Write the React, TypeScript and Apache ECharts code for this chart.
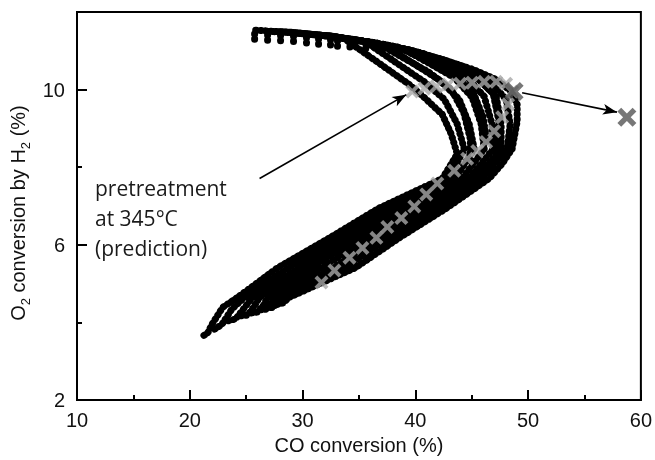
import React, { useEffect, useRef } from 'react';
import * as echarts from 'echarts';

// Black simulated trajectories (CO conversion %, O2 conversion by H2 %)
const curve0 = [[25.75,11.30],[25.75,11.53],[28.85,11.48],[32.39,11.38],[35.93,11.22],[39.47,11.02],[42.57,10.76],[45.22,10.51],[47.26,10.25],[48.50,9.95],[49.03,9.62],[49.03,9.18],[48.58,8.47],[47.70,8.09],[46.55,7.71],[42.74,6.94],[38.58,6.18],[34.69,5.41],[28.85,4.65],[28.23,4.50],[27.52,4.45]];
const curve1 = [[26.90,11.27],[26.90,11.50],[28.85,11.48],[32.39,11.38],[35.93,11.22],[39.47,11.02],[42.57,10.76],[44.34,10.59],[46.73,10.18],[48.05,9.75],[48.41,9.11],[48.14,8.47],[45.93,7.71],[41.86,6.94],[37.70,6.18],[33.72,5.41],[28.23,4.65],[27.96,4.57],[27.43,4.39],[26.73,4.37]];
const curve2 = [[28.05,11.26],[28.05,11.49],[32.39,11.38],[35.93,11.22],[39.47,11.02],[42.57,10.76],[45.66,10.25],[47.17,9.82],[47.61,9.11],[47.61,8.47],[45.40,7.71],[40.97,6.94],[36.81,6.18],[32.74,5.41],[27.52,4.65],[27.26,4.50],[26.73,4.34],[26.02,4.32]];
const curve3 = [[29.20,11.24],[29.20,11.46],[32.39,11.38],[35.93,11.22],[39.47,11.02],[40.80,10.92],[44.60,10.31],[46.11,9.82],[46.81,9.11],[46.90,8.47],[44.78,7.71],[40.18,6.94],[35.93,6.18],[31.68,5.41],[26.90,4.65],[26.55,4.45],[26.02,4.27],[25.31,4.24]];
const curve4 = [[30.35,11.20],[30.35,11.43],[32.39,11.38],[35.93,11.22],[39.03,11.04],[43.45,10.31],[45.04,9.80],[45.84,9.11],[46.11,8.47],[44.16,7.71],[39.29,6.94],[35.04,6.18],[30.71,5.41],[26.19,4.65],[25.66,4.39],[25.13,4.19],[24.42,4.17]];
const curve5 = [[31.42,11.17],[31.42,11.40],[32.39,11.38],[35.93,11.22],[37.26,11.15],[42.12,10.25],[43.89,9.75],[44.78,9.11],[45.22,8.47],[43.54,7.71],[38.41,6.94],[34.16,6.18],[29.73,5.41],[25.58,4.65],[24.87,4.39],[24.07,4.09],[23.36,4.04]];
const curve6 = [[32.48,11.15],[32.48,11.38],[35.49,11.25],[40.80,10.20],[42.57,9.75],[43.72,9.11],[44.34,8.47],[43.01,7.71],[37.61,6.94],[33.27,6.18],[28.76,5.41],[24.87,4.65],[23.72,4.34],[22.83,3.94],[22.21,3.83]];
const curve7 = [[33.10,11.12],[33.10,11.35],[33.72,11.31],[39.47,10.13],[40.97,9.75],[42.39,9.36],[43.19,8.85],[43.72,8.34],[42.39,7.71],[36.73,6.94],[32.39,6.18],[27.79,5.41],[24.25,4.65],[22.92,4.39],[21.95,3.94],[21.59,3.73],[21.06,3.63]];
// extra hatch trajectories in the upper band
const curve8 = [[34.20,11.10],[34.20,11.30],[36.60,11.20],[41.20,10.45],[43.20,10.00],[44.30,9.40],[44.90,8.70],[44.80,8.20]];
const curve9 = [[35.60,11.05],[35.60,11.25],[38.40,11.10],[43.20,10.45],[45.10,9.95],[46.00,9.30],[46.40,8.60]];
const curve10 = [[37.00,10.98],[37.00,11.18],[40.40,10.95],[45.10,10.40],[46.90,9.90],[47.40,9.20],[47.20,8.40]];
const blackCurves = [curve0, curve1, curve2, curve3, curve4, curve5, curve6, curve7, curve8, curve9, curve10];

// Gray crosses: prediction trajectory
const grayCurve = [[39.73,9.95],[40.80,10.03],[41.86,10.08],[42.92,10.13],[43.98,10.15],[45.04,10.18],[46.11,10.20],[47.17,10.20],[48.05,10.15],[48.58,9.95],[48.23,9.62],[47.70,9.29],[46.99,8.93],[46.28,8.65],[45.49,8.42],[44.60,8.22],[43.45,7.91],[41.95,7.58],[40.97,7.30],[39.91,6.99],[38.76,6.69],[37.52,6.46],[36.55,6.18],[35.31,5.92],[34.16,5.67],[32.83,5.34],[31.68,5.03]];

// Dark crosses: pretreatment points
const pretreatmentPoints = [[48.76,9.95],[58.76,9.29]];

// Arrows
const shiftArrow = [[49.47,9.92],[57.88,9.42]];
const labelArrow = [[26.19,7.71],[39.20,9.87]];

const annotationLines = ['pretreatment', 'at 345°C', '(prediction)'];
const xAxisTitle = 'CO conversion (%)';

const crossPath = 'path://M2,0L5,3L8,0L10,2L7,5L10,8L8,10L5,7L2,10L0,8L3,5L0,2Z';
const axisFont = '"Liberation Sans", Arial, sans-serif';

export default function App() {
  const ref = useRef<HTMLDivElement>(null);
  useEffect(() => {
    if (!ref.current) return;
    const chart = echarts.init(ref.current, undefined, { renderer: 'svg' });
    const lineAxis = { lineStyle: { color: '#000', width: 2 } };
    chart.setOption({
      animation: false,
      grid: { left: 77, right: 13, top: 12, bottom: 56, show: true, borderColor: '#000', borderWidth: 2 },
      xAxis: {
        type: 'value', min: 10, max: 60, interval: 10,
        axisLine: lineAxis,
        axisTick: { inside: true, length: 10, lineStyle: { color: '#000', width: 2 } },
        minorTick: { show: true, splitNumber: 2, length: 5, lineStyle: { color: '#000', width: 2 } },
        splitLine: { show: false },
        axisLabel: { margin: 10, fontSize: 20, color: '#111', fontFamily: axisFont },
        name: xAxisTitle, nameLocation: 'middle', nameGap: 31,
        nameTextStyle: { fontSize: 20, color: '#111', fontFamily: axisFont },
      },
      yAxis: [
        {
          type: 'value', min: 2, max: 12, interval: 2,
          axisLine: lineAxis,
          axisTick: { inside: true, length: 5, lineStyle: { color: '#000', width: 2 } },
          axisLabel: { show: false },
          splitLine: { show: false },
        },
        {
          type: 'value', min: 2, max: 12, interval: 4, position: 'left',
          axisLine: lineAxis,
          axisTick: { inside: true, length: 10, lineStyle: { color: '#000', width: 2 } },
          axisLabel: { margin: 12, fontSize: 20, color: '#111', fontFamily: axisFont, showMaxLabel: false },
          splitLine: { show: false },
          name: '{a|O}{s|2}{a| conversion by H}{s|2}{a| (%)}{p|}',
          nameLocation: 'middle', nameGap: 41,
          nameTextStyle: {
            fontSize: 20, color: '#111', fontFamily: axisFont,
            rich: {
              a: { fontSize: 20, color: '#111', fontFamily: axisFont, lineHeight: 27 },
              s: { fontSize: 13, color: '#111', fontFamily: axisFont, lineHeight: 13, verticalAlign: 'bottom' },
              p: { width: 14, fontSize: 20 },
            },
          },
        },
      ],
      graphic: [
        {
          type: 'text', left: 95, top: 173,
          style: { text: annotationLines.join('\n'), font: '21px "Open Sans", sans-serif', fill: '#1a1a1a', lineHeight: 30 },
        },
      ],
      series: [
        ...blackCurves.map((c) => ({
          type: 'line', data: c, showSymbol: false, silent: true, z: 2,
          lineStyle: { color: '#000', width: 7, type: [0.5, 4.5], cap: 'round', join: 'round' },
        })),
        {
          type: 'scatter', data: grayCurve, symbol: crossPath, symbolSize: 14, silent: true, z: 3,
          itemStyle: { color: '#a8a8a8' },
        },
        {
          type: 'scatter', data: pretreatmentPoints, symbol: crossPath, symbolSize: 19, silent: true, z: 4,
          itemStyle: { color: '#555' },
          markLine: {
            silent: true, symbol: ['none', 'arrow'], symbolSize: [8, 14],
            label: { show: false },
            lineStyle: { color: '#000', width: 1.6, type: 'solid' },
            data: [
              [{ coord: shiftArrow[0] }, { coord: shiftArrow[1] }],
              [{ coord: labelArrow[0] }, { coord: labelArrow[1] }],
            ],
          },
        },
      ],
    });
    return () => chart.dispose();
  }, []);
  return <div ref={ref} style={{ position: 'fixed', left: 0, top: 0, width: 655, height: 460 }} />;
}
